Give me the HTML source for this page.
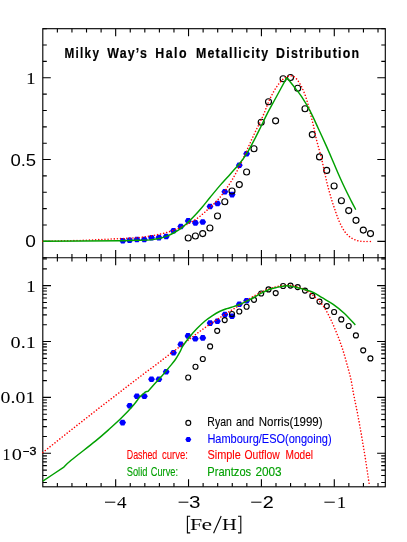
<!DOCTYPE html>
<html><head><meta charset="utf-8"><title>Milky Way's Halo Metallicity Distribution</title>
<style>
html,body{margin:0;padding:0;background:#fff}
body{width:407px;height:542px;position:relative;overflow:hidden;font-family:"Liberation Sans",sans-serif}
</style></head><body>
<svg width="407" height="542" viewBox="0 0 407 542" style="position:absolute;left:0;top:0">
<g fill="none" stroke="#000" stroke-width="1.12">
<rect x="42.8" y="28.7" width="342.5" height="458.1"/>
<line x1="42.8" y1="257.7" x2="385.3" y2="257.7"/>
<path d="M57.37 28.70v3.8M57.37 486.80v-3.8M57.37 253.90v7.6M71.95 28.70v3.8M71.95 486.80v-3.8M71.95 253.90v7.6M86.52 28.70v3.8M86.52 486.80v-3.8M86.52 253.90v7.6M101.10 28.70v3.8M101.10 486.80v-3.8M101.10 253.90v7.6M115.67 28.70v7.6M115.67 486.80v-7.6M115.67 250.10v15.2M130.25 28.70v3.8M130.25 486.80v-3.8M130.25 253.90v7.6M144.82 28.70v3.8M144.82 486.80v-3.8M144.82 253.90v7.6M159.40 28.70v3.8M159.40 486.80v-3.8M159.40 253.90v7.6M173.97 28.70v3.8M173.97 486.80v-3.8M173.97 253.90v7.6M188.54 28.70v7.6M188.54 486.80v-7.6M188.54 250.10v15.2M203.12 28.70v3.8M203.12 486.80v-3.8M203.12 253.90v7.6M217.69 28.70v3.8M217.69 486.80v-3.8M217.69 253.90v7.6M232.27 28.70v3.8M232.27 486.80v-3.8M232.27 253.90v7.6M246.84 28.70v3.8M246.84 486.80v-3.8M246.84 253.90v7.6M261.42 28.70v7.6M261.42 486.80v-7.6M261.42 250.10v15.2M275.99 28.70v3.8M275.99 486.80v-3.8M275.99 253.90v7.6M290.57 28.70v3.8M290.57 486.80v-3.8M290.57 253.90v7.6M305.14 28.70v3.8M305.14 486.80v-3.8M305.14 253.90v7.6M319.71 28.70v3.8M319.71 486.80v-3.8M319.71 253.90v7.6M334.29 28.70v7.6M334.29 486.80v-7.6M334.29 250.10v15.2M348.86 28.70v3.8M348.86 486.80v-3.8M348.86 253.90v7.6M363.44 28.70v3.8M363.44 486.80v-3.8M363.44 253.90v7.6M378.01 28.70v3.8M378.01 486.80v-3.8M378.01 253.90v7.6M42.80 257.70h4.0M385.30 257.70h-4.0M42.80 241.34h8.0M385.30 241.34h-8.0M42.80 224.99h4.0M385.30 224.99h-4.0M42.80 208.63h4.0M385.30 208.63h-4.0M42.80 192.27h4.0M385.30 192.27h-4.0M42.80 175.91h4.0M385.30 175.91h-4.0M42.80 159.56h8.0M385.30 159.56h-8.0M42.80 143.20h4.0M385.30 143.20h-4.0M42.80 126.84h4.0M385.30 126.84h-4.0M42.80 110.49h4.0M385.30 110.49h-4.0M42.80 94.13h4.0M385.30 94.13h-4.0M42.80 77.77h8.0M385.30 77.77h-8.0M42.80 61.41h4.0M385.30 61.41h-4.0M42.80 45.06h4.0M385.30 45.06h-4.0M42.80 28.70h4.0M385.30 28.70h-4.0M42.80 482.49h4.1M385.30 482.49h-4.1M42.80 475.51h4.1M385.30 475.51h-4.1M42.80 470.09h4.1M385.30 470.09h-4.1M42.80 465.67h4.1M385.30 465.67h-4.1M42.80 461.93h4.1M385.30 461.93h-4.1M42.80 458.69h4.1M385.30 458.69h-4.1M42.80 455.83h4.1M385.30 455.83h-4.1M42.80 453.27h8.2M385.30 453.27h-8.2M42.80 436.45h4.1M385.30 436.45h-4.1M42.80 426.61h4.1M385.30 426.61h-4.1M42.80 419.63h4.1M385.30 419.63h-4.1M42.80 414.22h4.1M385.30 414.22h-4.1M42.80 409.79h4.1M385.30 409.79h-4.1M42.80 406.05h4.1M385.30 406.05h-4.1M42.80 402.81h4.1M385.30 402.81h-4.1M42.80 399.95h4.1M385.30 399.95h-4.1M42.80 397.40h8.2M385.30 397.40h-8.2M42.80 380.57h4.1M385.30 380.57h-4.1M42.80 370.73h4.1M385.30 370.73h-4.1M42.80 363.75h4.1M385.30 363.75h-4.1M42.80 358.34h4.1M385.30 358.34h-4.1M42.80 353.91h4.1M385.30 353.91h-4.1M42.80 350.17h4.1M385.30 350.17h-4.1M42.80 346.93h4.1M385.30 346.93h-4.1M42.80 344.07h4.1M385.30 344.07h-4.1M42.80 341.52h8.2M385.30 341.52h-8.2M42.80 324.70h4.1M385.30 324.70h-4.1M42.80 314.86h4.1M385.30 314.86h-4.1M42.80 307.88h4.1M385.30 307.88h-4.1M42.80 302.46h4.1M385.30 302.46h-4.1M42.80 298.04h4.1M385.30 298.04h-4.1M42.80 294.29h4.1M385.30 294.29h-4.1M42.80 291.05h4.1M385.30 291.05h-4.1M42.80 288.20h4.1M385.30 288.20h-4.1M42.80 285.64h8.2M385.30 285.64h-8.2M42.80 268.82h4.1M385.30 268.82h-4.1M42.80 258.98h4.1M385.30 258.98h-4.1"/>
</g>
<g fill="#0000ff">
<polygon points="126.2,240.7 124.5,243.5 121.1,243.5 119.4,240.7 121.1,237.9 124.5,237.9"/>
<polygon points="133.0,240.3 131.3,243.1 127.9,243.1 126.2,240.3 127.9,237.5 131.3,237.5"/>
<polygon points="140.3,239.5 138.6,242.3 135.2,242.3 133.5,239.5 135.2,236.7 138.6,236.7"/>
<polygon points="147.7,239.5 146.0,242.3 142.6,242.3 140.9,239.5 142.6,236.7 146.0,236.7"/>
<polygon points="154.9,237.7 153.2,240.5 149.8,240.5 148.1,237.7 149.8,234.9 153.2,234.9"/>
<polygon points="162.3,237.6 160.6,240.4 157.2,240.4 155.5,237.6 157.2,234.8 160.6,234.8"/>
<polygon points="169.6,236.5 167.9,239.3 164.5,239.3 162.8,236.5 164.5,233.7 167.9,233.7"/>
<polygon points="176.9,230.8 175.2,233.6 171.8,233.6 170.1,230.8 171.8,228.0 175.2,228.0"/>
<polygon points="184.2,226.5 182.5,229.3 179.1,229.3 177.4,226.5 179.1,223.7 182.5,223.7"/>
<polygon points="191.6,220.9 189.9,223.7 186.5,223.7 184.8,220.9 186.5,218.1 189.9,218.1"/>
<polygon points="198.8,222.9 197.1,225.7 193.7,225.7 192.0,222.9 193.7,220.1 197.1,220.1"/>
<polygon points="206.1,222.0 204.4,224.8 201.0,224.8 199.3,222.0 201.0,219.2 204.4,219.2"/>
<polygon points="213.4,206.5 211.7,209.3 208.3,209.3 206.6,206.5 208.3,203.7 211.7,203.7"/>
<polygon points="220.9,203.5 219.2,206.3 215.8,206.3 214.1,203.5 215.8,200.7 219.2,200.7"/>
<polygon points="228.2,191.8 226.5,194.6 223.1,194.6 221.4,191.8 223.1,189.0 226.5,189.0"/>
<polygon points="235.5,194.6 233.8,197.4 230.4,197.4 228.7,194.6 230.4,191.8 233.8,191.8"/>
<polygon points="242.7,165.3 241.0,168.1 237.6,168.1 235.9,165.3 237.6,162.5 241.0,162.5"/>
<polygon points="250.0,153.8 248.3,156.6 244.9,156.6 243.2,153.8 244.9,151.0 248.3,151.0"/>
<polygon points="126.0,422.6 124.3,425.4 120.9,425.4 119.2,422.6 120.9,419.8 124.3,419.8"/>
<polygon points="133.1,405.8 131.4,408.6 128.0,408.6 126.3,405.8 128.0,403.0 131.4,403.0"/>
<polygon points="140.3,396.2 138.6,399.0 135.2,399.0 133.5,396.2 135.2,393.4 138.6,393.4"/>
<polygon points="147.8,396.2 146.1,399.0 142.7,399.0 141.0,396.2 142.7,393.4 146.1,393.4"/>
<polygon points="154.9,379.3 153.2,382.1 149.8,382.1 148.1,379.3 149.8,376.5 153.2,376.5"/>
<polygon points="162.3,379.3 160.6,382.1 157.2,382.1 155.5,379.3 157.2,376.5 160.6,376.5"/>
<polygon points="169.6,371.8 167.9,374.6 164.5,374.6 162.8,371.8 164.5,369.0 167.9,369.0"/>
<polygon points="176.9,352.8 175.2,355.6 171.8,355.6 170.1,352.8 171.8,350.0 175.2,350.0"/>
<polygon points="184.2,344.4 182.5,347.2 179.1,347.2 177.4,344.4 179.1,341.6 182.5,341.6"/>
<polygon points="191.4,335.9 189.7,338.7 186.3,338.7 184.6,335.9 186.3,333.1 189.7,333.1"/>
<polygon points="198.7,338.7 197.0,341.5 193.6,341.5 191.9,338.7 193.6,335.9 197.0,335.9"/>
<polygon points="206.2,337.9 204.5,340.7 201.1,340.7 199.4,337.9 201.1,335.1 204.5,335.1"/>
<polygon points="213.5,323.1 211.8,325.9 208.4,325.9 206.7,323.1 208.4,320.3 211.8,320.3"/>
<polygon points="220.8,321.3 219.1,324.1 215.7,324.1 214.0,321.3 215.7,318.5 219.1,318.5"/>
<polygon points="228.3,314.6 226.6,317.4 223.2,317.4 221.5,314.6 223.2,311.8 226.6,311.8"/>
<polygon points="235.4,316.2 233.7,319.0 230.3,319.0 228.6,316.2 230.3,313.4 233.7,313.4"/>
<polygon points="242.7,304.2 241.0,307.0 237.6,307.0 235.9,304.2 237.6,301.4 241.0,301.4"/>
<polygon points="250.0,300.8 248.3,303.6 244.9,303.6 243.2,300.8 244.9,298.0 248.3,298.0"/>
<polygon points="191.3,439.5 189.8,442.0 186.8,442.0 185.3,439.5 186.8,437.0 189.8,437.0"/>
</g>
<g fill="none" stroke="#000" stroke-width="1.15">
<circle cx="188.2" cy="238.0" r="3.0"/>
<circle cx="195.4" cy="236.0" r="3.0"/>
<circle cx="202.7" cy="233.6" r="3.0"/>
<circle cx="209.9" cy="228.0" r="3.0"/>
<circle cx="217.5" cy="216.0" r="3.0"/>
<circle cx="224.8" cy="201.7" r="3.0"/>
<circle cx="232.0" cy="191.0" r="3.0"/>
<circle cx="239.3" cy="184.6" r="3.0"/>
<circle cx="246.6" cy="172.0" r="3.0"/>
<circle cx="254.0" cy="148.7" r="3.0"/>
<circle cx="261.2" cy="122.2" r="3.0"/>
<circle cx="268.5" cy="101.7" r="3.0"/>
<circle cx="275.6" cy="120.8" r="3.0"/>
<circle cx="283.1" cy="78.7" r="3.0"/>
<circle cx="290.5" cy="77.5" r="3.0"/>
<circle cx="297.7" cy="88.2" r="3.0"/>
<circle cx="305.0" cy="108.7" r="3.0"/>
<circle cx="312.3" cy="134.6" r="3.0"/>
<circle cx="319.5" cy="156.9" r="3.0"/>
<circle cx="326.7" cy="170.4" r="3.0"/>
<circle cx="334.1" cy="186.0" r="3.0"/>
<circle cx="341.4" cy="200.7" r="3.0"/>
<circle cx="348.7" cy="210.6" r="3.0"/>
<circle cx="356.0" cy="220.3" r="3.0"/>
<circle cx="363.3" cy="230.1" r="3.0"/>
<circle cx="370.5" cy="233.6" r="3.0"/>
<circle cx="188.2" cy="377.5" r="2.5"/>
<circle cx="195.5" cy="366.7" r="2.5"/>
<circle cx="202.8" cy="359.0" r="2.5"/>
<circle cx="210.1" cy="346.4" r="2.5"/>
<circle cx="217.2" cy="330.8" r="2.5"/>
<circle cx="224.7" cy="320.1" r="2.5"/>
<circle cx="232.0" cy="314.0" r="2.5"/>
<circle cx="239.3" cy="311.5" r="2.5"/>
<circle cx="246.6" cy="306.7" r="2.5"/>
<circle cx="254.0" cy="299.8" r="2.5"/>
<circle cx="261.2" cy="293.5" r="2.5"/>
<circle cx="268.5" cy="289.4" r="2.5"/>
<circle cx="275.7" cy="293.1" r="2.5"/>
<circle cx="283.1" cy="286.0" r="2.5"/>
<circle cx="290.5" cy="285.6" r="2.5"/>
<circle cx="297.7" cy="287.1" r="2.5"/>
<circle cx="305.0" cy="290.6" r="2.5"/>
<circle cx="312.3" cy="295.9" r="2.5"/>
<circle cx="319.5" cy="301.6" r="2.5"/>
<circle cx="326.8" cy="306.1" r="2.5"/>
<circle cx="334.1" cy="312.0" r="2.5"/>
<circle cx="341.3" cy="319.4" r="2.5"/>
<circle cx="348.7" cy="326.0" r="2.5"/>
<circle cx="355.9" cy="335.4" r="2.5"/>
<circle cx="363.2" cy="350.3" r="2.5"/>
<circle cx="370.4" cy="358.4" r="2.5"/>
<circle cx="188.3" cy="422.9" r="2.45"/>
</g>
<g fill="none" stroke="#ff0000" stroke-width="1.55" stroke-linecap="round" stroke-dasharray="0.01 3.1">
<path d="M42.80 241.30C43.64 241.28 46.14 241.23 47.81 241.19C49.49 241.16 51.16 241.12 52.83 241.08C54.50 241.05 56.17 241.01 57.84 240.98C59.52 240.94 61.19 240.90 62.86 240.87C64.53 240.83 66.20 240.80 67.87 240.76C69.55 240.72 71.22 240.69 72.89 240.65C74.56 240.61 76.23 240.58 77.90 240.53C79.58 240.48 81.25 240.42 82.92 240.35C84.59 240.28 86.26 240.21 87.93 240.13C89.60 240.05 91.27 239.97 92.94 239.90C94.61 239.82 96.28 239.74 97.95 239.66C99.62 239.58 101.29 239.51 102.96 239.43C104.63 239.35 106.30 239.27 107.97 239.19C109.64 239.11 111.31 239.03 112.98 238.95C114.65 238.87 116.32 238.78 117.99 238.70C119.66 238.62 121.33 238.53 123.00 238.45C124.67 238.37 126.34 238.28 128.01 238.20C129.68 238.12 131.35 238.05 133.02 237.95C134.69 237.85 136.36 237.76 138.02 237.61C139.68 237.46 141.34 237.27 143.00 237.05C144.65 236.83 146.30 236.55 147.95 236.29C149.60 236.02 151.25 235.75 152.90 235.47C154.55 235.19 156.20 234.92 157.84 234.59C159.48 234.27 161.11 233.92 162.73 233.53C164.35 233.13 165.97 232.69 167.57 232.22C169.17 231.75 170.76 231.23 172.34 230.69C173.92 230.14 175.48 229.56 177.04 228.94C178.59 228.33 180.13 227.68 181.65 227.00C183.18 226.31 184.69 225.59 186.18 224.84C187.67 224.08 189.15 223.30 190.60 222.48C192.05 221.65 193.48 220.79 194.88 219.89C196.28 218.98 197.66 218.03 198.99 217.03C200.33 216.03 201.61 214.97 202.89 213.89C204.16 212.81 205.39 211.68 206.63 210.55C207.87 209.43 209.10 208.30 210.33 207.17C211.56 206.03 212.80 204.91 214.00 203.75C215.20 202.59 216.40 201.43 217.52 200.20C218.65 198.97 219.71 197.68 220.76 196.38C221.80 195.08 222.80 193.73 223.79 192.38C224.77 191.03 225.72 189.66 226.66 188.28C227.60 186.90 228.52 185.50 229.43 184.10C230.33 182.69 231.23 181.28 232.09 179.84C232.95 178.41 233.77 176.96 234.59 175.50C235.41 174.04 236.22 172.58 237.01 171.11C237.81 169.64 238.60 168.17 239.35 166.67C240.09 165.18 240.80 163.66 241.50 162.14C242.20 160.63 242.87 159.10 243.56 157.57C244.25 156.05 244.93 154.52 245.62 153.00C246.31 151.47 246.99 149.95 247.68 148.42C248.37 146.90 249.05 145.38 249.74 143.85C250.43 142.33 251.11 140.80 251.80 139.28C252.50 137.76 253.19 136.23 253.90 134.72C254.62 133.21 255.35 131.71 256.09 130.21C256.82 128.71 257.58 127.21 258.31 125.71C259.05 124.21 259.79 122.71 260.51 121.20C261.22 119.69 261.93 118.18 262.61 116.65C263.29 115.12 263.95 113.59 264.58 112.04C265.21 110.49 265.79 108.92 266.40 107.37C267.00 105.81 267.57 104.24 268.21 102.70C268.86 101.16 269.55 99.64 270.27 98.13C270.99 96.63 271.74 95.13 272.54 93.67C273.33 92.20 274.15 90.74 275.03 89.32C275.91 87.91 276.83 86.50 277.82 85.16C278.80 83.82 279.80 82.47 280.92 81.28C282.04 80.09 283.24 78.90 284.56 78.02C285.88 77.13 287.42 76.28 288.86 75.99C290.30 75.70 291.89 75.76 293.21 76.29C294.53 76.81 295.72 78.00 296.79 79.16C297.86 80.33 298.75 81.85 299.62 83.27C300.49 84.68 301.27 86.16 302.00 87.66C302.74 89.15 303.40 90.69 304.03 92.23C304.66 93.78 305.24 95.35 305.79 96.92C306.34 98.50 306.84 100.10 307.32 101.70C307.79 103.30 308.23 104.91 308.67 106.53C309.10 108.14 309.51 109.76 309.92 111.38C310.33 113.00 310.74 114.63 311.14 116.25C311.55 117.87 311.96 119.49 312.36 121.12C312.75 122.74 313.14 124.37 313.50 126.00C313.87 127.63 314.20 129.27 314.55 130.90C314.90 132.54 315.24 134.18 315.61 135.81C315.98 137.44 316.36 139.06 316.76 140.69C317.17 142.31 317.59 143.93 318.03 145.54C318.47 147.15 318.95 148.75 319.40 150.36C319.86 151.97 320.33 153.57 320.75 155.19C321.17 156.81 321.55 158.44 321.92 160.07C322.30 161.69 322.65 163.33 323.01 164.96C323.37 166.60 323.73 168.23 324.09 169.86C324.45 171.49 324.81 173.13 325.17 174.76C325.53 176.39 325.88 178.03 326.25 179.66C326.62 181.29 326.99 182.92 327.39 184.54C327.79 186.16 328.23 187.78 328.67 189.39C329.11 191.00 329.57 192.61 330.03 194.22C330.49 195.82 330.95 197.43 331.43 199.03C331.92 200.63 332.43 202.22 332.95 203.81C333.46 205.40 333.99 206.99 334.52 208.57C335.06 210.16 335.59 211.74 336.15 213.32C336.71 214.89 337.28 216.47 337.88 218.02C338.49 219.58 339.10 221.14 339.79 222.66C340.47 224.18 341.19 225.70 341.99 227.15C342.79 228.61 343.63 230.06 344.60 231.40C345.57 232.73 346.63 234.03 347.81 235.16C349.00 236.29 350.31 237.34 351.70 238.18C353.09 239.03 354.61 239.72 356.16 240.23C357.70 240.74 359.35 241.02 360.99 241.23C362.63 241.45 364.32 241.48 365.99 241.55C367.65 241.61 370.16 241.59 371.00 241.60"/>
<path d="M42.80 452.50C43.46 451.98 45.43 450.41 46.74 449.36C48.05 448.31 49.36 447.27 50.68 446.22C51.99 445.17 53.30 444.13 54.61 443.08C55.93 442.04 57.24 440.99 58.55 439.94C59.87 438.90 61.18 437.85 62.49 436.81C63.81 435.76 65.13 434.72 66.45 433.68C67.76 432.64 69.08 431.61 70.40 430.57C71.72 429.53 73.04 428.49 74.36 427.46C75.68 426.42 77.00 425.38 78.32 424.35C79.64 423.31 80.96 422.27 82.28 421.23C83.61 420.20 84.93 419.16 86.25 418.13C87.57 417.09 88.89 416.06 90.21 415.02C91.54 413.99 92.86 412.95 94.18 411.92C95.50 410.89 96.83 409.85 98.15 408.82C99.48 407.79 100.81 406.77 102.14 405.74C103.47 404.72 104.81 403.70 106.14 402.68C107.47 401.66 108.81 400.65 110.14 399.63C111.48 398.61 112.81 397.59 114.14 396.56C115.47 395.54 116.80 394.51 118.12 393.48C119.45 392.46 120.78 391.43 122.10 390.40C123.43 389.37 124.75 388.34 126.08 387.31C127.41 386.28 128.74 385.26 130.07 384.24C131.40 383.21 132.74 382.20 134.08 381.18C135.42 380.17 136.76 379.16 138.09 378.14C139.43 377.13 140.76 376.11 142.10 375.09C143.44 374.08 144.77 373.05 146.11 372.05C147.45 371.04 148.80 370.04 150.16 369.05C151.51 368.05 152.87 367.07 154.22 366.08C155.57 365.08 156.92 364.07 158.25 363.06C159.59 362.04 160.91 361.01 162.25 359.99C163.58 358.96 164.91 357.94 166.24 356.92C167.57 355.89 168.90 354.87 170.24 353.86C171.57 352.84 172.91 351.83 174.25 350.81C175.59 349.80 176.93 348.79 178.27 347.78C179.61 346.76 180.95 345.75 182.28 344.73C183.61 343.71 184.94 342.68 186.26 341.65C187.59 340.62 188.91 339.58 190.24 338.56C191.57 337.53 192.90 336.52 194.25 335.51C195.59 334.50 196.94 333.51 198.29 332.51C199.64 331.51 201.00 330.52 202.36 329.53C203.71 328.55 205.07 327.56 206.45 326.60C207.82 325.63 209.20 324.68 210.60 323.74C211.99 322.81 213.41 321.91 214.81 320.99C216.22 320.07 217.63 319.16 219.03 318.24C220.43 317.32 221.81 316.36 223.22 315.44C224.62 314.52 226.02 313.61 227.44 312.71C228.86 311.82 230.30 310.95 231.73 310.07C233.16 309.19 234.60 308.32 236.02 307.43C237.45 306.55 238.86 305.65 240.28 304.74C241.69 303.83 243.09 302.91 244.50 302.00C245.91 301.08 247.30 300.14 248.71 299.24C250.13 298.34 251.54 297.43 252.99 296.58C254.43 295.72 255.90 294.91 257.37 294.11C258.85 293.32 260.35 292.55 261.86 291.83C263.37 291.11 264.90 290.41 266.45 289.78C268.00 289.16 269.58 288.59 271.18 288.09C272.77 287.60 274.40 287.17 276.03 286.81C277.67 286.44 279.32 286.15 280.98 285.91C282.64 285.67 284.31 285.46 285.97 285.38C287.64 285.29 289.31 285.27 290.96 285.41C292.61 285.56 294.26 285.86 295.87 286.26C297.48 286.66 299.07 287.21 300.62 287.82C302.16 288.44 303.68 289.16 305.15 289.96C306.61 290.76 308.03 291.65 309.40 292.60C310.77 293.55 312.09 294.58 313.38 295.65C314.67 296.71 315.94 297.83 317.14 298.99C318.34 300.15 319.52 301.35 320.60 302.62C321.68 303.89 322.69 305.22 323.64 306.59C324.59 307.97 325.45 309.41 326.29 310.86C327.14 312.30 327.92 313.79 328.69 315.28C329.46 316.78 330.20 318.28 330.92 319.80C331.64 321.31 332.33 322.84 333.01 324.38C333.69 325.91 334.36 327.45 335.01 329.00C335.66 330.55 336.31 332.10 336.93 333.65C337.56 335.21 338.18 336.77 338.78 338.34C339.37 339.91 339.95 341.48 340.51 343.07C341.07 344.65 341.60 346.24 342.13 347.83C342.65 349.43 343.17 351.03 343.66 352.63C344.16 354.23 344.63 355.84 345.09 357.46C345.56 359.07 345.99 360.69 346.44 362.31C346.89 363.93 347.33 365.55 347.77 367.17C348.22 368.78 348.69 370.40 349.12 372.02C349.56 373.64 350.00 375.26 350.38 376.89C350.77 378.52 351.11 380.16 351.43 381.81C351.74 383.46 352.01 385.12 352.29 386.77C352.58 388.42 352.86 390.08 353.16 391.73C353.47 393.38 353.79 395.03 354.12 396.67C354.44 398.32 354.78 399.97 355.12 401.61C355.45 403.26 355.79 404.90 356.12 406.55C356.45 408.19 356.79 409.84 357.11 411.48C357.44 413.13 357.76 414.78 358.07 416.43C358.38 418.08 358.68 419.73 358.98 421.38C359.28 423.03 359.57 424.69 359.87 426.34C360.17 427.99 360.47 429.64 360.76 431.30C361.06 432.95 361.36 434.60 361.65 436.25C361.94 437.91 362.23 439.56 362.51 441.22C362.79 442.87 363.06 444.53 363.34 446.18C363.62 447.84 363.89 449.50 364.16 451.15C364.44 452.81 364.71 454.46 364.98 456.12C365.24 457.78 365.51 459.44 365.76 461.10C366.02 462.76 366.26 464.42 366.51 466.08C366.76 467.74 367.01 469.40 367.25 471.06C367.50 472.72 367.74 474.38 367.99 476.04C368.24 477.70 368.49 479.36 368.74 481.02C368.99 482.68 369.37 485.17 369.50 486.00"/>
</g>
<g fill="none" stroke="#00a000" stroke-width="1.45" stroke-linejoin="round">
<path d="M42.80 241.30C55.67 241.20 103.80 240.88 120.00 240.70C136.20 240.52 134.95 240.33 140.00 240.20C145.05 240.07 147.15 240.18 150.30 239.90C153.45 239.62 156.03 239.17 158.90 238.50C161.77 237.83 164.92 236.90 167.50 235.90C170.08 234.90 172.10 233.78 174.40 232.50C176.70 231.22 179.00 229.93 181.30 228.20C183.60 226.47 185.92 224.25 188.20 222.10C190.48 219.95 192.72 217.73 195.00 215.30C197.28 212.87 199.40 210.47 201.90 207.50C204.40 204.53 206.93 201.23 210.00 197.50C213.07 193.77 216.90 189.03 220.30 185.10C223.70 181.17 227.22 177.45 230.40 173.90C233.58 170.35 236.68 167.18 239.40 163.80C242.12 160.42 244.27 157.50 246.70 153.60C249.13 149.70 251.60 144.97 254.00 140.40C256.40 135.83 258.93 130.58 261.10 126.20C263.27 121.82 264.52 118.88 267.00 114.10C269.48 109.32 272.70 103.58 276.00 97.50C279.30 91.42 285.00 80.92 286.80 77.60C287.88 78.97 290.83 82.63 293.30 85.80C295.77 88.97 298.83 92.45 301.60 96.60C304.37 100.75 307.13 105.43 309.90 110.70C312.67 115.97 315.43 122.25 318.20 128.20C320.97 134.15 323.93 140.63 326.50 146.40C329.07 152.17 331.43 157.78 333.60 162.80C335.77 167.82 337.53 172.08 339.50 176.50C341.47 180.92 343.43 185.20 345.40 189.30C347.37 193.40 349.57 197.70 351.30 201.10C353.03 204.50 355.05 208.27 355.80 209.70"/>
<path d="M42.80 481.10C46.25 478.82 60.05 469.68 63.50 467.40C64.82 466.17 66.08 464.38 71.40 460.00C76.72 455.62 88.97 446.35 95.40 441.10C101.83 435.85 105.60 432.42 110.00 428.50C114.40 424.58 117.87 421.53 121.80 417.60C125.73 413.67 130.57 408.37 133.60 404.90C136.63 401.43 138.00 398.97 140.00 396.80C142.00 394.63 144.67 392.72 145.60 391.90C146.02 391.78 147.68 391.32 148.10 391.20C149.20 389.97 152.37 386.38 154.70 383.80C157.03 381.22 159.63 378.52 162.10 375.70C164.57 372.88 167.28 369.60 169.50 366.90C171.72 364.20 173.68 361.97 175.40 359.50C177.12 357.03 178.57 354.32 179.80 352.10C181.03 349.88 181.22 348.67 182.80 346.20C184.38 343.73 186.93 340.23 189.30 337.30C191.67 334.37 194.43 331.28 197.00 328.60C199.57 325.92 202.18 323.32 204.70 321.20C207.22 319.08 209.63 317.52 212.10 315.90C214.57 314.28 217.03 312.72 219.50 311.50C221.97 310.28 224.45 309.45 226.90 308.60C229.35 307.75 231.75 307.22 234.20 306.40C236.65 305.58 238.97 304.82 241.60 303.70C244.23 302.58 247.97 300.73 250.00 299.70C252.03 298.67 251.92 298.58 253.80 297.50C255.68 296.42 258.83 294.50 261.30 293.20C263.77 291.90 266.17 290.62 268.60 289.70C271.03 288.78 272.95 288.37 275.90 287.70C278.85 287.03 282.93 285.77 286.30 285.70C289.67 285.63 292.98 286.63 296.10 287.30C299.22 287.97 302.05 288.82 305.00 289.70C307.95 290.58 310.95 291.27 313.80 292.60C316.65 293.93 318.87 295.75 322.10 297.70C325.33 299.65 329.52 301.72 333.20 304.30C336.88 306.88 340.52 309.77 344.20 313.20C347.88 316.63 353.45 322.95 355.30 324.90"/>
</g>
</svg>
<svg width="407" height="542" viewBox="0 0 407 542" style="position:absolute;left:0;top:0;will-change:transform">
<text transform="translate(64.50,58.40) scale(0.7600,1)" font-family="Liberation Sans" font-size="15.5" font-weight="bold" fill="#000" letter-spacing="1.66" stroke="#000" stroke-width="0.2">Milky</text>
<text transform="translate(107.23,58.40) scale(0.8000,1)" font-family="Liberation Sans" font-size="15.5" font-weight="bold" fill="#000" letter-spacing="1.47" stroke="#000" stroke-width="0.2">Way’s</text>
<text transform="translate(155.36,58.40) scale(0.8000,1)" font-family="Liberation Sans" font-size="15.5" font-weight="bold" fill="#000" letter-spacing="1.81" stroke="#000" stroke-width="0.2">Halo</text>
<text transform="translate(195.93,58.40) scale(0.8000,1)" font-family="Liberation Sans" font-size="15.5" font-weight="bold" fill="#000" letter-spacing="1.53" stroke="#000" stroke-width="0.2">Metallicity</text>
<text transform="translate(276.07,58.40) scale(0.8000,1)" font-family="Liberation Sans" font-size="15.5" font-weight="bold" fill="#000" letter-spacing="1.53" stroke="#000" stroke-width="0.2">Distribution</text>
<text transform="translate(207.34,425.80) scale(0.8324,1)" font-family="Liberation Sans" font-size="12.6" font-weight="normal" fill="#000" stroke="#000" stroke-width="0.12">Ryan</text>
<text transform="translate(235.95,425.80) scale(0.8599,1)" font-family="Liberation Sans" font-size="12.6" font-weight="normal" fill="#000" stroke="#000" stroke-width="0.12">and</text>
<text transform="translate(258.75,425.80) scale(0.9127,1)" font-family="Liberation Sans" font-size="12.6" font-weight="normal" fill="#000" stroke="#000" stroke-width="0.12">Norris(1999)</text>
<text transform="translate(207.38,442.70) scale(0.8741,1)" font-family="Liberation Sans" font-size="12.6" font-weight="normal" fill="#0000ff" stroke="#0000ff" stroke-width="0.12">Hambourg/ESO(ongoing)</text>
<text transform="translate(207.49,459.40) scale(0.8674,1)" font-family="Liberation Sans" font-size="12.6" font-weight="normal" fill="#ff0000" stroke="#ff0000" stroke-width="0.12">Simple</text>
<text transform="translate(244.56,459.40) scale(0.8232,1)" font-family="Liberation Sans" font-size="12.6" font-weight="normal" fill="#ff0000" stroke="#ff0000" stroke-width="0.12">Outflow</text>
<text transform="translate(285.55,459.40) scale(0.8034,1)" font-family="Liberation Sans" font-size="12.6" font-weight="normal" fill="#ff0000" stroke="#ff0000" stroke-width="0.12">Model</text>
<text transform="translate(207.28,476.20) scale(0.8824,1)" font-family="Liberation Sans" font-size="12.6" font-weight="normal" fill="#00a000" stroke="#00a000" stroke-width="0.12">Prantzos</text>
<text transform="translate(255.39,476.20) scale(0.9378,1)" font-family="Liberation Sans" font-size="12.6" font-weight="normal" fill="#00a000" stroke="#00a000" stroke-width="0.12">2003</text>
<text transform="translate(126.72,459.10) scale(0.7283,1)" font-family="Liberation Sans" font-size="12.2" font-weight="normal" fill="#ff0000" stroke="#ff0000" stroke-width="0.12">Dashed</text>
<text transform="translate(161.96,459.10) scale(0.7837,1)" font-family="Liberation Sans" font-size="12.2" font-weight="normal" fill="#ff0000" stroke="#ff0000" stroke-width="0.12">curve:</text>
<text transform="translate(126.71,475.70) scale(0.7644,1)" font-family="Liberation Sans" font-size="12.2" font-weight="normal" fill="#00a000" stroke="#00a000" stroke-width="0.12">Solid</text>
<text transform="translate(150.74,475.70) scale(0.7601,1)" font-family="Liberation Sans" font-size="12.2" font-weight="normal" fill="#00a000" stroke="#00a000" stroke-width="0.12">Curve:</text>
<text transform="translate(26.12,83.70) scale(1.1390,1)" font-family="Liberation Serif" font-size="17.0" font-weight="normal" fill="#000">1</text>
<text transform="translate(10.40,165.60) scale(1.1310,1)" font-family="Liberation Sans" font-size="16.4" font-weight="normal" fill="#000">0.5</text>
<text transform="translate(25.33,247.40) scale(1.1662,1)" font-family="Liberation Sans" font-size="16.4" font-weight="normal" fill="#000">0</text>
<text transform="translate(26.08,291.70) scale(1.1510,1)" font-family="Liberation Serif" font-size="17.0" font-weight="normal" fill="#000">1</text>
<text transform="translate(10.58,347.70) scale(1.1876,1)" font-family="Liberation Serif" font-size="17.0" font-weight="normal" fill="#000">0.1</text>
<text transform="translate(0.58,403.30) scale(1.1644,1)" font-family="Liberation Serif" font-size="17.0" font-weight="normal" fill="#000">0.01</text>
<text transform="translate(2.46,459.70) scale(0.9472,1)" font-family="Liberation Serif" font-size="16.8" font-weight="normal" fill="#000">1</text>
<text transform="translate(11.75,459.70) scale(1.2092,1)" font-family="Liberation Serif" font-size="16.8" font-weight="normal" fill="#000">0</text>
<text transform="translate(29.57,455.00) scale(1.2211,1)" font-family="Liberation Sans" font-size="10.2" font-weight="normal" fill="#000" stroke="#000" stroke-width="0.35">3</text>
<text transform="translate(116.97,507.90) scale(1.1431,1)" font-family="Liberation Serif" font-size="16.8" font-weight="normal" fill="#000">4</text>
<text transform="translate(188.99,507.70) scale(1.3032,1)" font-family="Liberation Sans" font-size="15.8" font-weight="normal" fill="#000">3</text>
<text transform="translate(262.14,507.90) scale(1.0827,1)" font-family="Liberation Mono" font-size="18.4" font-weight="normal" fill="#000">2</text>
<text transform="translate(336.79,508.20) scale(1.1287,1)" font-family="Liberation Serif" font-size="16.8" font-weight="normal" fill="#000">1</text>
<text transform="translate(190.09,530.30) scale(1.2559,1)" font-family="Liberation Serif" font-size="17.4" font-weight="normal" fill="#000">F</text>
<text transform="translate(201.45,530.30) scale(1.3771,1)" font-family="Liberation Serif" font-size="17.4" font-weight="normal" fill="#000">e</text>
<text transform="translate(221.88,530.30) scale(1.1771,1)" font-family="Liberation Serif" font-size="17.4" font-weight="normal" fill="#000">H</text>
<g fill="none" stroke="#000" stroke-width="1.1">
<path d="M190.2 516.3H187.4V532.9H190.2"/>
<path d="M238.0 516.3H240.8V532.9H238.0"/>
<path d="M213.6 533.2L221.2 516.0"/>
<path d="M105.0 502.2H115.3M178.6 502.2H188.4M251.2 502.2H261.5M324.4 502.2H334.8" stroke-width="1.0"/>
<path d="M23.2 451.5H29.0" stroke-width="1.0"/>
</g>
</svg>
</body></html>
